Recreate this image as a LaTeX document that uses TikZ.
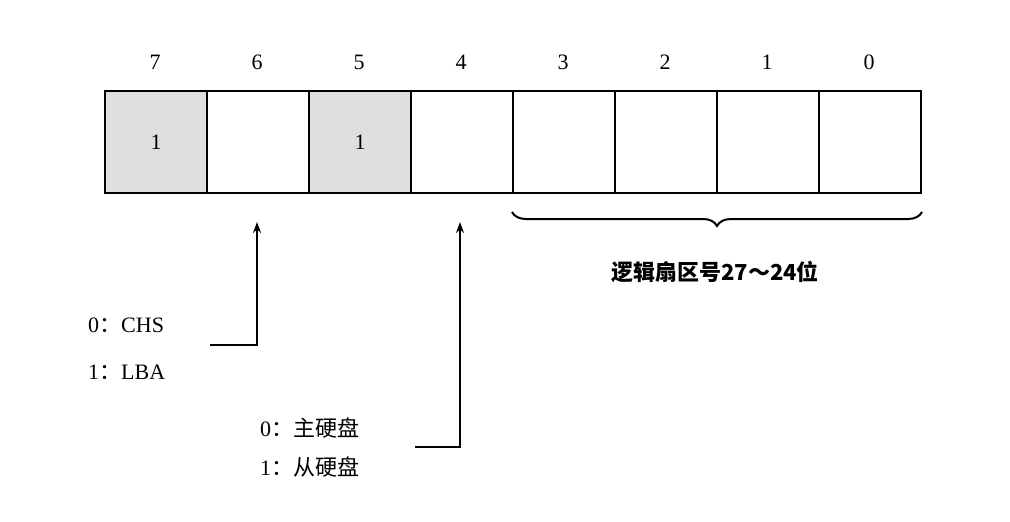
\documentclass[tikz,border=0pt]{standalone}
\usepackage{fontspec}
\setmainfont{Liberation Serif}
\newfontfamily\cjk{Noto Sans CJK SC}
\usetikzlibrary{decorations.pathreplacing,arrows.meta,calc}
\begin{document}
\begin{tikzpicture}[x=1pt,y=-1pt,
  cell/.style={draw,line width=2pt,minimum width=102pt,minimum height=102pt,inner sep=0pt,anchor=north west,font=\fontsize{22}{26}\selectfont},
  lbl/.style={font=\fontsize{22}{26}\selectfont,inner sep=0pt},
  arr/.style={line width=2pt,-{Stealth[length=11pt,width=8pt]}}]
\useasboundingbox (0,0) rectangle (1010,522);
\foreach \b/\f/\t [count=\i from 0] in {7/gray!25/1,6/white/,5/gray!25/1,4/white/,3/white/,2/white/,1/white/,0/white/}{
  \node[cell,fill=\f] (c\b) at (104+102*\i,90) {\t};
  \node[lbl] (n\b) at (155+102*\i,62) {\b};
}
\draw[line width=2pt,decorate,decoration={brace,mirror,amplitude=14pt}] ($(c3.south west)+(0,18)$) -- ($(c0.south east)+(0,18)$);
\node[lbl,font=\cjk\bfseries\fontsize{22}{26}\selectfont] (br1) at (715,272) {逻辑扇区号27～24位};
\node[lbl,anchor=west] (t1) at (88,325) {0{\cjk ：}CHS};
\node[lbl,anchor=west] (t2) at (88,372) {1{\cjk ：}LBA};
\coordinate (a1) at (210,345);
\draw[arr] (a1) -- (257,345) -- (257,222);
\node[lbl,anchor=west] (t3) at (260,428) {0{\cjk ：主硬盘}};
\node[lbl,anchor=west] (t4) at (260,467) {1{\cjk ：从硬盘}};
\coordinate (a2) at (415,447);
\draw[arr] (a2) -- (460,447) -- (460,222);
\end{tikzpicture}
\end{document}
